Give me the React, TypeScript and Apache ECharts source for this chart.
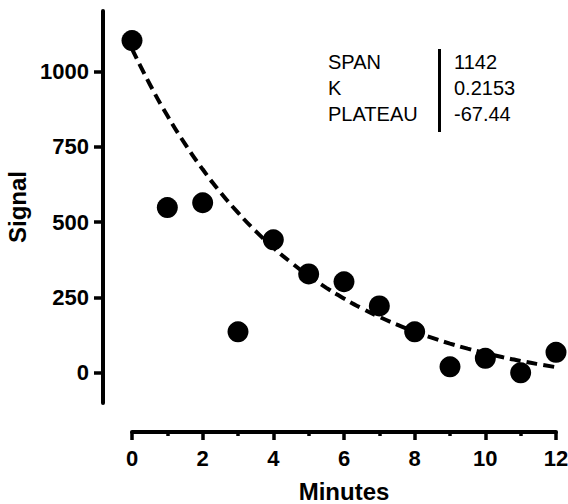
import React, { useEffect, useRef } from "react";
import * as echarts from "echarts";

const minutes = [0, 1, 2, 3, 4, 5, 6, 7, 8, 9, 10, 11, 12];
const signal = [1102, 548, 564, 136, 441, 328, 302, 222, 136, 20, 48, 0, 68];

// dashed fit curve (one-phase decay fit)
const fitX = [0, 0.5, 1, 1.5, 2, 2.5, 3, 3.5, 4, 4.5, 5, 5.5, 6, 6.5, 7, 7.5, 8, 8.5, 9, 9.5, 10, 10.5, 11, 11.5, 12];
const fitY = [1074.6, 958.0, 853.3, 759.4, 675.0, 599.3, 531.2, 470.1, 415.3, 366.1, 321.8, 282.0, 246.4, 214.4, 185.6, 159.8, 136.5, 115.8, 97.0, 80.3, 65.2, 51.7, 39.5, 28.6, 18.8];

const yTicks = [0, 250, 500, 750, 1000];
const paramNames = ["SPAN", "K", "PLATEAU"];
const paramValues = ["1142", "0.2153", "-67.44"];

const FONT = "'Liberation Sans', Arial, Helvetica, sans-serif";

export default function App() {
  const ref = useRef<HTMLDivElement>(null);
  useEffect(() => {
    const chart = echarts.init(ref.current!, null, { renderer: "svg" });
    const rowY = [62, 88, 114];
    const graphic: any[] = [];
    paramNames.forEach((n, i) => {
      graphic.push({
        type: "text",
        x: 328,
        y: rowY[i],
        style: { text: n, font: `20px ${FONT}`, fill: "#000", verticalAlign: "middle", align: "left" },
      });
      graphic.push({
        type: "text",
        x: 454,
        y: rowY[i],
        style: { text: paramValues[i], font: `20px ${FONT}`, fill: "#000", verticalAlign: "middle", align: "left" },
      });
    });
    graphic.push({
      type: "line",
      shape: { x1: 439.5, y1: 49, x2: 439.5, y2: 132 },
      style: { stroke: "#000", lineWidth: 3 },
    });

    chart.setOption({
      animation: false,
      grid: { left: 132, top: 11, width: 424, height: 392, containLabel: false, outerBoundsMode: "none" },
      graphic,
      xAxis: {
        type: "value",
        min: 0,
        max: 12,
        interval: 2,
        offset: 29,
        name: "Minutes",
        nameLocation: "middle",
        nameGap: 47,
        nameTextStyle: { fontSize: 24, fontWeight: "bold", color: "#000", fontFamily: FONT },
        axisLine: { show: true, onZero: false, lineStyle: { color: "#000", width: 4 } },
        axisTick: { show: true, length: 8, lineStyle: { color: "#000", width: 3.5 } },
        minorTick: { show: true, splitNumber: 2, length: 4, lineStyle: { color: "#000", width: 3.5 } },
        splitLine: { show: false },
        minorSplitLine: { show: false },
        axisLabel: { fontSize: 22, fontWeight: "bold", color: "#000", fontFamily: FONT, margin: 15, formatter: (v: number) => String(v) },
      },
      yAxis: {
        type: "value",
        min: -100,
        max: 1200,
        offset: 29,
        name: "Signal",
        nameLocation: "middle",
        nameGap: 70,
        nameTextStyle: { fontSize: 24, fontWeight: "bold", color: "#000", fontFamily: FONT },
        axisLine: { show: true, onZero: false, lineStyle: { color: "#000", width: 4 } },
        axisTick: { show: true, length: 9, customValues: yTicks, lineStyle: { color: "#000", width: 3.5 } },
        splitLine: { show: false },
        axisLabel: { customValues: yTicks, fontSize: 22, fontWeight: "bold", color: "#000", fontFamily: FONT, margin: 14, formatter: (v: number) => String(v) },
      },
      series: [
        {
          type: "line",
          data: fitX.map((x, i) => [x, fitY[i]]),
          smooth: true,
          showSymbol: false,
          symbol: "none",
          lineStyle: { color: "#000", width: 4, type: [11, 6] },
          z: 2,
        },
        {
          type: "scatter",
          data: minutes.map((m, i) => [m, signal[i]]),
          symbol: "circle",
          symbolSize: 21,
          itemStyle: { color: "#000", opacity: 1 },
          z: 3,
        },
      ],
    });
    return () => chart.dispose();
  }, []);
  return <div ref={ref} style={{ position: "absolute", left: 0, top: 0, width: 568, height: 504 }} />;
}
